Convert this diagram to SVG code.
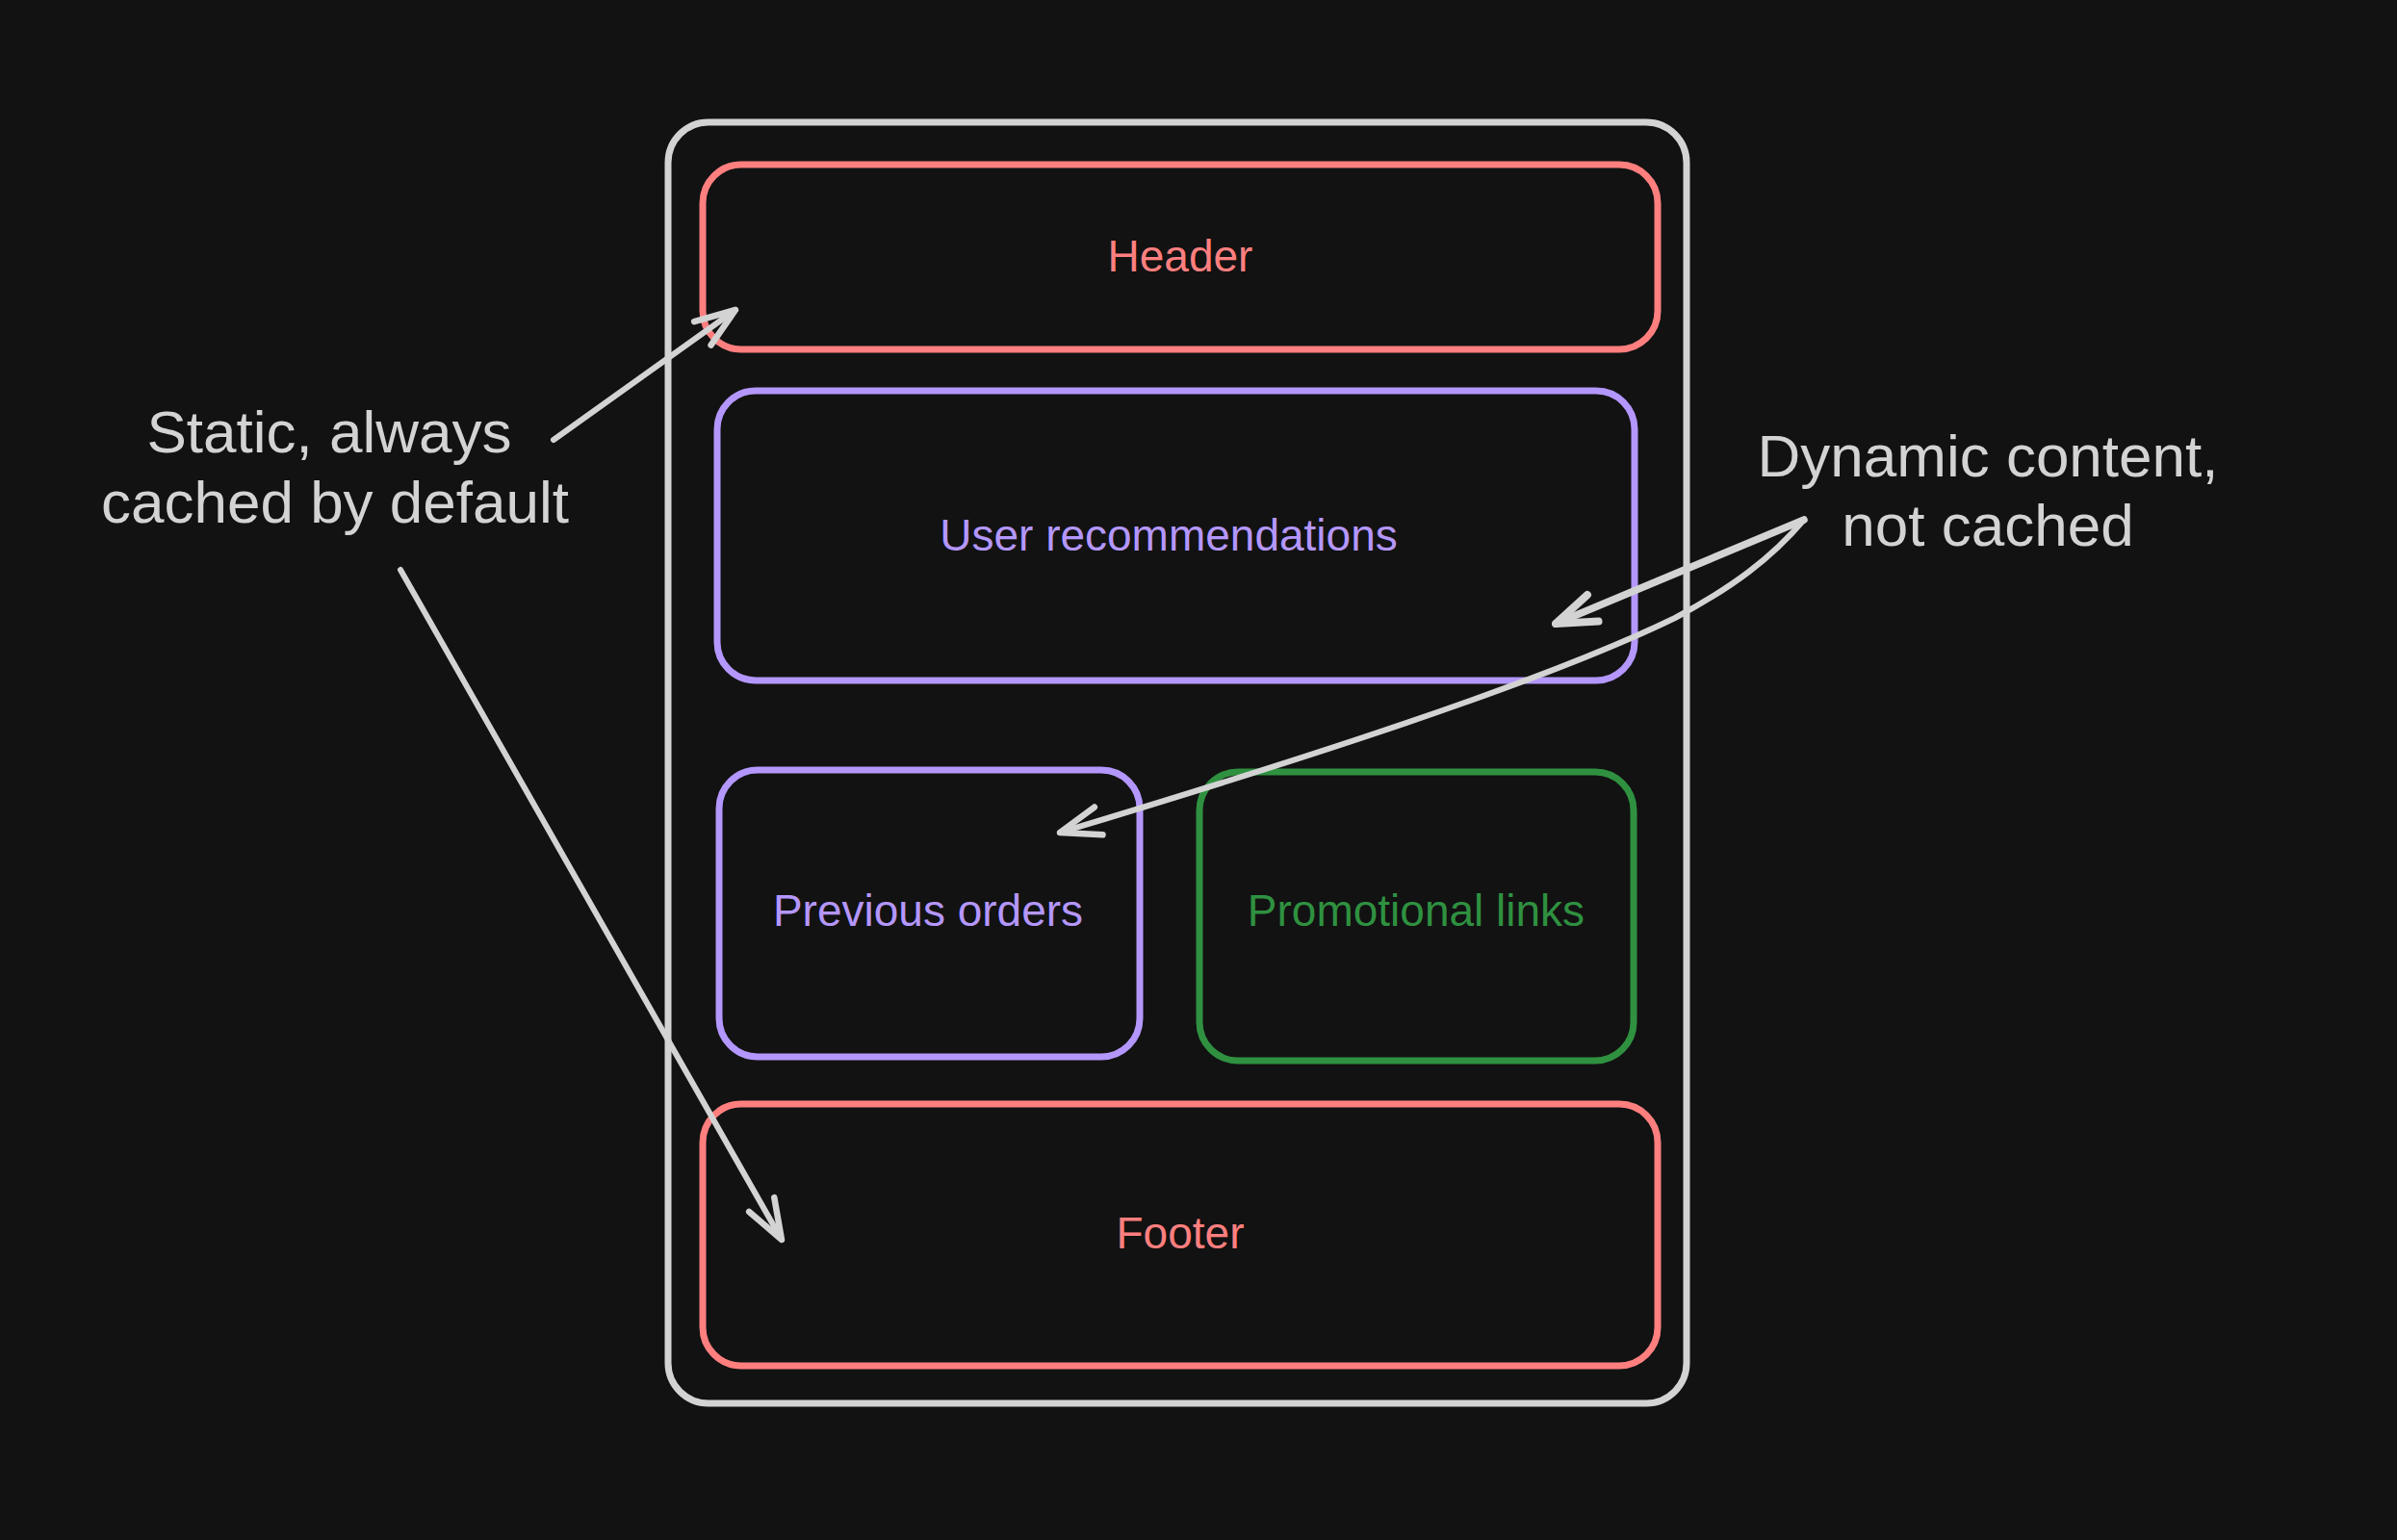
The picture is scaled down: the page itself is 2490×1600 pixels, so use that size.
<svg xmlns="http://www.w3.org/2000/svg" width="2490" height="1600" viewBox="0 0 2490 1600">
  <style>
    .box { fill: none; stroke-width: 7; stroke-linejoin: round; }
    .outer { stroke: #d3d3d3; }
    .red { stroke: #ff7f7f; }
    .purple { stroke: #b497fd; }
    .green { stroke: #2f9140; }
    .lbl { font-family: "Liberation Sans", Arial, sans-serif; font-size: 46px; text-anchor: middle; }
    .ann { font-family: "Liberation Sans", Arial, sans-serif; font-size: 62px; text-anchor: middle; fill: #d3d3d3; }
    .conn { fill: none; stroke: #d3d3d3; stroke-width: 6; stroke-linecap: round; stroke-linejoin: round; }
    .thick { stroke-width: 7.5; }
  </style>
  <defs>
    <marker id="arrow" markerUnits="userSpaceOnUse" markerWidth="100" markerHeight="100" viewBox="-60 -50 100 100" refX="0" refY="0" orient="auto" overflow="visible">
      <path d="M-42,-15 L0,0 L-42,15" fill="none" stroke="#d3d3d3" stroke-width="6.5" stroke-linecap="round" stroke-linejoin="round"/>
    </marker>
    <marker id="arrow-thick" markerUnits="userSpaceOnUse" markerWidth="100" markerHeight="100" viewBox="-60 -50 100 100" refX="0" refY="0" orient="auto" overflow="visible">
      <path d="M-42,-15 L0,0 L-42,15" fill="none" stroke="#d3d3d3" stroke-width="8" stroke-linecap="round" stroke-linejoin="round"/>
    </marker>
  </defs>
  <rect width="2490" height="1600" fill="#121212"/>

  <g id="page">
    <rect class="box outer" x="694" y="127" width="1058" height="1331" rx="42"/>
  </g>
  <g id="header">
    <rect class="box red" x="730" y="171" width="992" height="192" rx="40"/>
    <text class="lbl" x="1226" y="282" fill="#ff7f7f">Header</text>
  </g>
  <g id="user-recommendations">
    <rect class="box purple" x="745" y="406" width="953" height="301" rx="40"/>
    <text class="lbl" x="1214" y="572" fill="#b497fd">User recommendations</text>
  </g>
  <g id="previous-orders">
    <rect class="box purple" x="747" y="800" width="437" height="298" rx="40"/>
    <text class="lbl" x="964" y="962" fill="#b497fd">Previous orders</text>
  </g>
  <g id="promotional-links">
    <rect class="box green" x="1246" y="802" width="451" height="300" rx="40"/>
    <text class="lbl" x="1471" y="962" fill="#2f9140">Promotional links</text>
  </g>
  <g id="footer">
    <rect class="box red" x="730" y="1147" width="992" height="272" rx="40"/>
    <text class="lbl" x="1226" y="1297" fill="#ff7f7f">Footer</text>
  </g>
  <g id="static-note">
    <text class="ann" x="342" y="470">Static, always</text>
    <text class="ann" x="348" y="543">cached by default</text>
  </g>
  <g id="dynamic-note">
    <text class="ann" x="2065" y="495">Dynamic content,</text>
    <text class="ann" x="2065" y="567">not cached</text>
  </g>

  <g id="connectors">
    <path class="conn" d="M575,457 L764,322" marker-end="url(#arrow)"/>
    <path class="conn" d="M416,592 L812,1288" marker-end="url(#arrow)"/>
    <path class="conn thick" d="M1874,540 L1616,648" marker-end="url(#arrow-thick)"/>
    <path class="conn" d="M1874,540 C1840,580 1800,610 1740,642 C1600,710 1350,790 1101,865" marker-end="url(#arrow)"/>
  </g>
</svg>
